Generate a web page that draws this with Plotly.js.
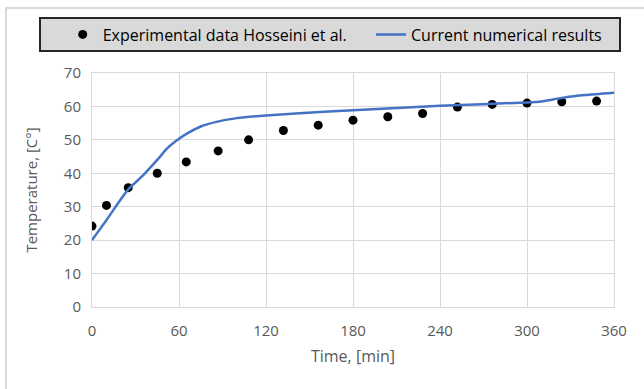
<!DOCTYPE html>
<html>
<head>
<meta charset="utf-8">
<script src="https://cdn.plot.ly/plotly-3.0.1.min.js"></script>
<style>
  html, body { margin: 0; padding: 0; background: #ffffff; }
  #frame { position: absolute; left: 5px; top: 7px; width: 700px; height: 400px;
           border-left: 2px solid #d9d9d9; border-top: 2px solid #d9d9d9; }
  #chart { position: absolute; left: 0; top: 0; width: 644px; height: 389px; }
</style>
</head>
<body>
<div id="frame"></div>
<div id="chart"></div>
<script>
// Experimental data (Hosseini et al.)
const expTime = [0, 10, 25, 45, 65, 87, 108, 132, 156, 180, 204, 228, 252, 276, 300, 324, 348];
const expTemp = [24.2, 30.4, 35.7, 40.0, 43.4, 46.7, 50.0, 52.8, 54.4, 55.9, 56.9, 57.9, 59.8, 60.6, 61.0, 61.4, 61.6];

// Current numerical results
const numTime = [0, 5, 10, 20, 25, 35, 45, 52, 60, 66, 75, 85, 100, 120, 160, 200, 240, 300, 310, 318, 326, 340, 360];
const numTemp = [20.0, 23.0, 26.0, 32.3, 35.2, 39.3, 44.0, 47.5, 50.3, 52.0, 54.0, 55.3, 56.5, 57.3, 58.4, 59.3, 60.2, 61.2, 61.5, 62.1, 62.7, 63.4, 64.1];

const seriesNames = ["Experimental data Hosseini et al.", "Current numerical results"];
const xTicks = [0, 60, 120, 180, 240, 300, 360];
const yTicks = [0, 10, 20, 30, 40, 50, 60, 70];

const font = "Open Sans, Noto Sans, sans-serif";
const grey = "#595959";

const traces = [
  { x: expTime, y: expTemp, name: seriesNames[0], type: "scatter", mode: "markers",
    marker: { color: "#000000", size: 9 }, legend: "legend" },
  { x: numTime, y: numTemp, name: seriesNames[1], type: "scatter", mode: "lines",
    line: { color: "#4472c4", width: 2.5, shape: "spline", smoothing: 0.6 }, legend: "legend2" }
];

const legendBase = {
  orientation: "h", xanchor: "left", xref: "container",
  y: 1 - 34.5 / 389, yanchor: "middle", yref: "container",
  bgcolor: "rgba(0,0,0,0)", borderwidth: 0,
  font: { family: font, size: 16, color: "#000000" }
};

const layout = {
  width: 644, height: 389,
  paper_bgcolor: "rgba(0,0,0,0)", plot_bgcolor: "rgba(0,0,0,0)",
  margin: { l: 92, r: 30, t: 73, b: 82 },
  font: { family: font, size: 15, color: grey },
  showlegend: true,
  legend: Object.assign({}, legendBase, { x: 62.7 / 644 }),
  legend2: Object.assign({}, legendBase, { x: 371 / 644 }),
  shapes: [
    { type: "rect", xref: "paper", yref: "paper",
      x0: (40 - 92) / 522, x1: (620 - 92) / 522,
      y0: 1 + (73 - 51) / 234, y1: 1 + (73 - 18) / 234,
      fillcolor: "#d9d9d9", line: { color: "#262626", width: 2 }, layer: "below" }
  ],
  xaxis: {
    range: [0, 360], tickvals: xTicks, ticktext: xTicks.map(String),
    showgrid: true, gridcolor: "#d9d9d9", gridwidth: 1,
    zeroline: false, showline: true, linecolor: "#d9d9d9", linewidth: 1, mirror: true,
    ticks: "", ticklabelstandoff: 10, tickfont: { family: font, size: 15, color: grey },
    title: { text: "Time, [min]", font: { family: font, size: 16, color: grey }, standoff: 11 }
  },
  yaxis: {
    range: [0, 70], tickvals: yTicks, ticktext: yTicks.map(String),
    showgrid: true, gridcolor: "#d9d9d9", gridwidth: 1,
    zeroline: false, showline: true, linecolor: "#d9d9d9", linewidth: 1, mirror: true,
    ticks: "", ticklabelstandoff: 7, tickfont: { family: font, size: 15, color: grey },
    title: { text: "Temperature, [C°]", font: { family: font, size: 15, color: grey }, standoff: 22 }
  }
};

Plotly.newPlot("chart", traces, layout, { displayModeBar: false, staticPlot: true });
</script>
</body>
</html>
